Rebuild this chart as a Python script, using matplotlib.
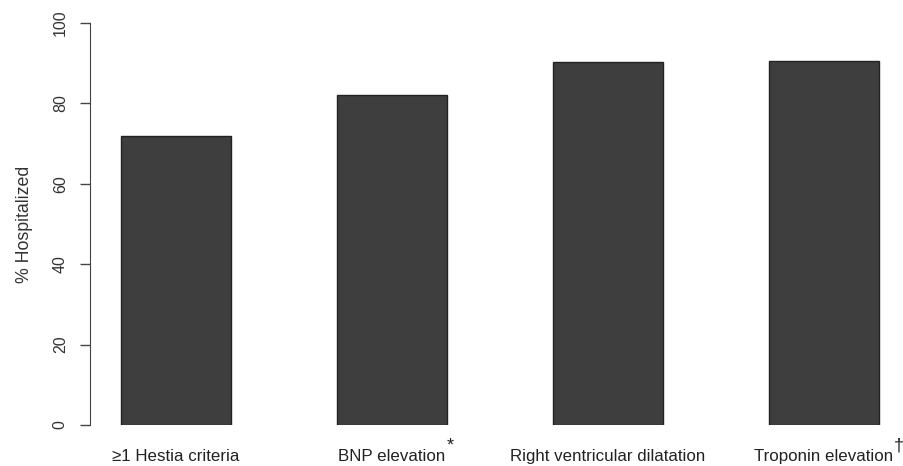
import matplotlib
matplotlib.use('Agg')
import matplotlib.pyplot as plt
import numpy as np

plt.rcParams['font.family'] = ['Liberation Sans', 'DejaVu Sans']

# data
categories = ['\u22651 Hestia criteria', 'BNP elevation', 'Right ventricular dilatation', 'Troponin elevation']
marks = ['', '*', '', '\u2020']
pct_hosp = [71.8, 82.2, 90.2, 90.5]
yticks = [0, 20, 40, 60, 80, 100]

fig = plt.figure(figsize=(9.04, 4.66), dpi=100)
ax = fig.add_axes([90/904, 41/466, 810/904, 402/466])

x = np.arange(len(categories))
ax.bar(x, pct_hosp, width=0.505, color='#3e3e3e', edgecolor='#222222', linewidth=1.0)

ax.set_xlim(-0.398, 3.352)
ax.set_ylim(0, 100)
ax.set_yticks(yticks)
ax.set_yticklabels([str(v) for v in yticks], rotation=90, va='center', fontsize=11.5, color='#333333')
ax.set_xticks(x)
ax.set_xticklabels(categories, fontsize=12.2, color='#222222')
ax.tick_params(axis='x', length=0, pad=17)
ax.tick_params(axis='y', length=7, width=1, color='#444444', pad=9)
ax.set_ylabel('% Hospitalized', fontsize=12.8, color='#333333', labelpad=14)

for s in ['top', 'right', 'bottom']:
    ax.spines[s].set_visible(False)
ax.spines['left'].set_color('#444444')

# superscript marks after labels
for lab, m in zip(ax.get_xticklabels(), marks):
    if m:
        ax.annotate(m, xy=(1, 1), xycoords=lab, xytext=(0.5, -4), textcoords='offset points',
                    ha='left', va='bottom', fontsize=13, color='#222222')

fig.savefig('out.png', dpi=100)
